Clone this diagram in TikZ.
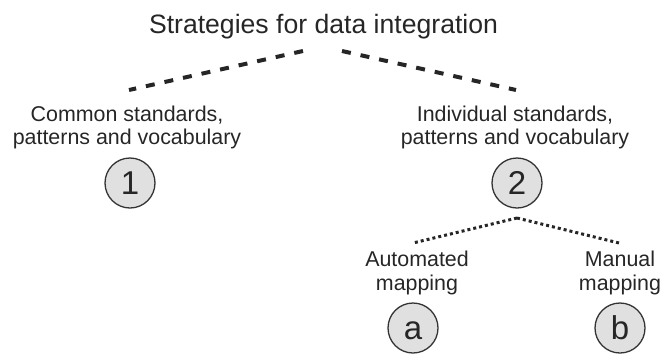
\documentclass[tikz,border=0pt]{standalone}
\usepackage{fontspec}
\setmainfont{Liberation Sans}
\begin{document}
\begin{tikzpicture}[x=1pt,y=-1pt,
  txt/.style={anchor=base, inner sep=0pt, text=black!85, font=\fontsize{21.4}{24}\selectfont},
  ttl/.style={anchor=base, inner sep=0pt, text=black!85, font=\fontsize{26.6}{30}\selectfont},
  num/.style={circle, draw=black!80, line width=1.3pt, fill=black!12, minimum size=50pt, inner sep=0pt, text=black!85, font=\fontsize{33}{36}\selectfont, text height=23.6pt, text depth=0pt},
  dashline/.style={line width=4pt, dash pattern=on 9pt off 10pt, draw=black!85},
  dotline/.style={line width=3pt, dash pattern=on 3pt off 3pt, draw=black!85}]
\useasboundingbox (0,0) rectangle (663,354);
\node[ttl] (title) at (323.5,33) {Strategies for data integration};
\coordinate (tl) at (303,51);
\coordinate (tr) at (342,51);
\coordinate (cl) at (129,90);
\coordinate (cr) at (516,90);
\draw[dashline] (tl) -- (cl);
\draw[dashline] (tr) -- (cr);
\node[txt] (com1) at (127,121) {Common standards,};
\node[txt] (com2) at (127,144) {patterns and vocabulary};
\node[txt] (ind1) at (515,121) {Individual standards,};
\node[txt] (ind2) at (515,144) {patterns and vocabulary};
\node[num] (n1) at (130,183) {1};
\node[num] (n2) at (517,183) {2};
\coordinate (apex) at (517,218);
\coordinate (al) at (413,243);
\coordinate (ar) at (619,243);
\draw[dotline] (apex) -- (al);
\draw[dotline] (apex) -- (ar);
\node[txt] (auto1) at (417,266) {Automated};
\node[txt] (auto2) at (417,290) {mapping};
\node[txt] (man1) at (620,266) {Manual};
\node[txt] (man2) at (620,290) {mapping};
\node[num] (na) at (413,328) {a};
\node[num] (nb) at (620,328) {b};
\end{tikzpicture}
\end{document}
